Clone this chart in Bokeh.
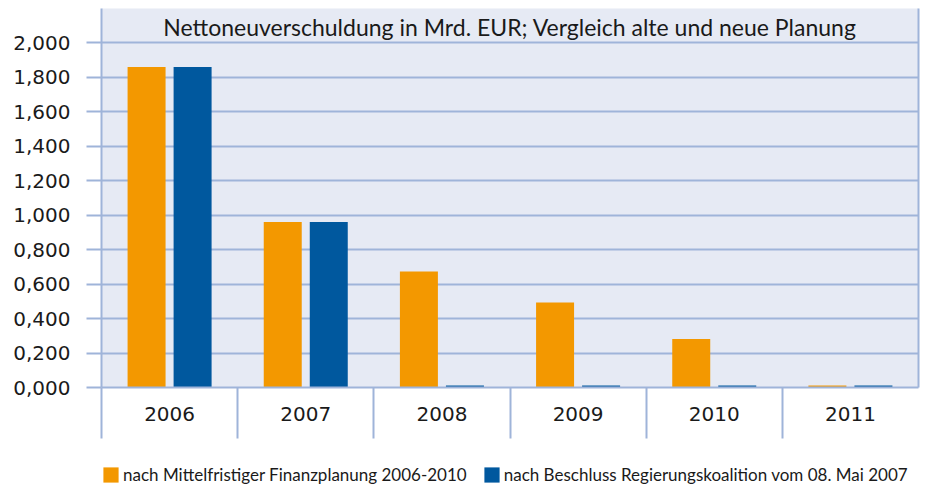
from bokeh.plotting import figure
from bokeh.models import (ColumnDataSource, Range1d, LinearAxis, FixedTicker,
                          Legend, LegendItem, Label, Grid)
from bokeh.layouts import column
from bokeh.transform import dodge
from bokeh.embed import file_html
from bokeh.resources import INLINE

years = ["2006", "2007", "2008", "2009", "2010", "2011"]
old_plan = [1.860, 0.960, 0.674, 0.493, 0.281, 0.012]
new_plan = [1.860, 0.960, 0.012, 0.012, 0.012, 0.012]
y_ticks = [0.0, 0.2, 0.4, 0.6, 0.8, 1.0, 1.2, 1.4, 1.6, 1.8, 2.0]
y_tick_labels = ["0,000", "0,200", "0,400", "0,600", "0,800", "1,000",
                 "1,200", "1,400", "1,600", "1,800", "2,000"]
title_text = "Nettoneuverschuldung in Mrd. EUR; Vergleich alte und neue Planung"
legend_labels = ["nach Mittelfristiger Finanzplanung 2006-2010",
                 "nach Beschluss Regierungskoalition vom 08. Mai 2007"]

ORANGE = "#f39800"
BLUE = "#00589e"
GRID = "#9fb4d9"
BG = "#e6eaf4"
TXT = "#1a1a1a"
TICK_FONT = "DejaVu Sans"
TITLE_FONT = "Lato"

xpos = [i + 0.5 for i in range(len(years))]
src = ColumnDataSource(dict(x=xpos, old=old_plan, new=new_plan, year=years))

p = figure(width=928, height=455, output_backend="svg", toolbar_location=None,
           x_range=Range1d(0, len(years)), y_range=Range1d(0, 2.2),
           x_axis_type=None, y_axis_type=None,
           min_border_left=101, min_border_right=10, min_border_top=8,
           min_border_bottom=68)
p.background_fill_color = BG
p.border_fill_color = "white"
p.outline_line_color = None

r_old = p.vbar(x=dodge("x", -0.169, range=p.x_range), top="old", width=0.279,
               source=src, color=ORANGE, line_color=None)
r_new = p.vbar(x=dodge("x", 0.169, range=p.x_range), top="new", width=0.279,
               source=src, color=BLUE, line_color=None)

# y axis (left)
yaxis = LinearAxis(ticker=FixedTicker(ticks=y_ticks, minor_ticks=[]))
yaxis.major_label_overrides = {t: l for t, l in zip(y_ticks, y_tick_labels)}
yaxis.axis_line_color = GRID
yaxis.axis_line_width = 2
yaxis.major_tick_line_color = GRID
yaxis.major_tick_line_width = 2
yaxis.major_tick_out = 15
yaxis.major_tick_in = 0
yaxis.minor_tick_line_color = None
yaxis.major_label_standoff = 16
yaxis.major_label_text_font = TICK_FONT
yaxis.major_label_text_font_size = "20px"
yaxis.major_label_text_color = TXT
p.add_layout(yaxis, "left")

# right border line
raxis = LinearAxis(ticker=FixedTicker(ticks=[1.0], minor_ticks=[]))
raxis.major_label_overrides = {1.0: ""}
raxis.axis_line_color = GRID
raxis.axis_line_width = 2
raxis.major_tick_line_color = None
raxis.minor_tick_line_color = None
raxis.major_label_standoff = 0
p.add_layout(raxis, "right")

# x axis (categories with separators)
xaxis = LinearAxis(ticker=FixedTicker(ticks=xpos,
                                      minor_ticks=list(range(len(years)))))
xaxis.major_label_overrides = {x: y for x, y in zip(xpos, years)}
xaxis.axis_line_color = GRID
xaxis.axis_line_width = 2
xaxis.major_tick_line_color = None
xaxis.major_tick_out = 0
xaxis.major_tick_in = 0
xaxis.minor_tick_line_color = GRID
xaxis.minor_tick_line_width = 2
xaxis.minor_tick_out = 51
xaxis.minor_tick_in = 0
xaxis.major_label_standoff = -32
xaxis.major_label_text_font = TICK_FONT
xaxis.major_label_text_font_size = "20px"
xaxis.major_label_text_color = TXT
p.add_layout(xaxis, "below")

p.add_layout(Grid(dimension=1, ticker=yaxis.ticker, grid_line_color=GRID,
                  grid_line_width=2))

# title inside the frame
p.add_layout(Label(x=len(years) / 2, y=2.093, text=title_text,
                   text_align="center", text_baseline="middle",
                   text_font=TITLE_FONT, text_font_size="23px",
                   text_color=TXT))

# legend strip below the chart (its bars lie outside its visible range)
pl = figure(width=928, height=30, output_backend="svg", toolbar_location=None,
            x_range=Range1d(0, len(years)), y_range=Range1d(10, 11),
            x_axis_type=None, y_axis_type=None,
            min_border_left=0, min_border_right=0, min_border_top=0,
            min_border_bottom=0)
pl.outline_line_color = None
pl.grid.visible = False
pl.background_fill_color = "white"
l_old = pl.vbar(x="x", top="old", width=0.279, source=src,
                color=ORANGE, line_color=None)
l_new = pl.vbar(x="x", top="new", width=0.279, source=src,
                color=BLUE, line_color=None)
legend = Legend(items=[LegendItem(label=legend_labels[0], renderers=[l_old]),
                       LegendItem(label=legend_labels[1], renderers=[l_new])],
                orientation="horizontal", location=(0, 0),
                glyph_width=19, glyph_height=19, label_standoff=3,
                spacing=15, padding=0, margin=0,
                label_text_font=TITLE_FONT, label_text_font_size="17px",
                label_text_color=TXT, label_text_baseline="middle",
                border_line_color=None, background_fill_alpha=0)
pl.add_layout(legend, "center")

layout = column(p, pl, spacing=0)
open("out.html", "w").write(file_html(layout, INLINE))
